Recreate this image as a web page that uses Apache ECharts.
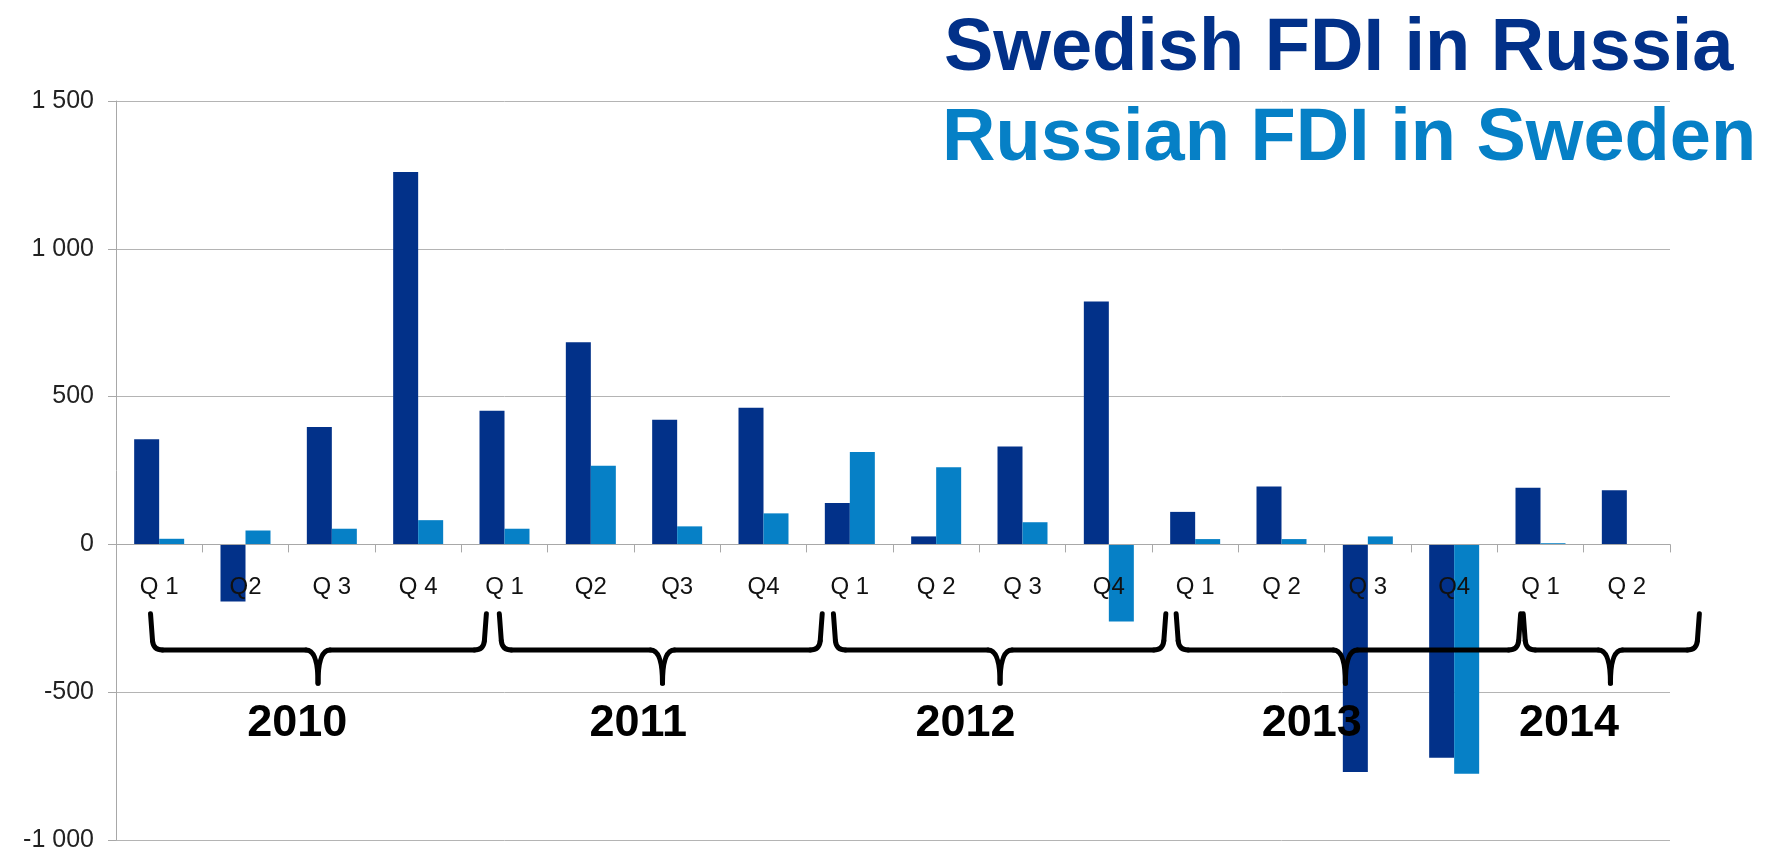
<!DOCTYPE html>
<html>
<head>
<meta charset="utf-8">
<script src="https://cdn.jsdelivr.net/npm/echarts@6/dist/echarts.min.js"></script>
<style>
html,body{margin:0;padding:0;background:#fff;}
#main{width:1765px;height:851px;}
</style>
</head>
<body>
<div id="main"></div>
<script>
// ---- data ----
var quarterLabels = ['Q 1','Q2','Q 3','Q 4','Q 1','Q2','Q3','Q4','Q 1','Q 2','Q 3','Q4','Q 1','Q 2','Q 3','Q4','Q 1','Q 2'];
var swedishInRussia = [356, -193, 397, 1260, 452, 684, 422, 462, 140, 27, 331, 822, 110, 196, -770, -722, 192, 183];
var russianInSweden = [19, 47, 53, 82, 53, 266, 61, 105, 313, 261, 75, -261, 18, 18, 27, -776, 4, 0];
var seriesNames = ['Swedish FDI in Russia', 'Russian FDI in Sweden'];
var yTickValues = [-1000, -500, 0, 500, 1000, 1500];
var yTickLabels = ['-1 000', '-500', '0', '500', '1 000', '1 500'];
var years = ['2010', '2011', '2012', '2013', '2014'];
// bracket spans in category-index units
var bracketStart = [-0.1, 3.94, 7.81, 11.78, 15.8];
var bracketEnd = [3.79, 7.68, 11.66, 15.77, 17.84];
var bracketTip = [1.84, 5.83, 9.74, 13.74, 16.81];
var yearLabelPos = [1.6, 5.55, 9.34, 13.35, 16.33];
// bracket / label levels in value units
var bracketTopVal = -235;
var bracketLineVal = -357;
var bracketTipVal = -470;
var yearLabelVal = -605;

var DARK = '#023189';
var LIGHT = '#0680c6';

var chart = echarts.init(document.getElementById('main'), null, {renderer: 'canvas'});

var option = {
  animation: false,
  backgroundColor: '#ffffff',
  grid: {left: 116, right: 95, top: 101, bottom: 11, containLabel: false, outerBoundsMode: 'none'},
  xAxis: {
    type: 'category',
    data: quarterLabels,
    z: 5,
    position: 'bottom',
    offset: 0,
    axisLine: {onZero: false, lineStyle: {color: '#a8a8a8', width: 1}},
    axisTick: {show: true, length: 8, inside: false, lineStyle: {color: '#a8a8a8'}},
    axisLabel: {
      margin: 31,
      interval: 0,
      color: '#111',
      fontFamily: 'Liberation Sans, Arial, sans-serif',
      fontSize: 24
    },
    splitLine: {show: false}
  },
  yAxis: {
    type: 'value',
    min: -1000,
    max: 1500,
    interval: 500,
    axisLine: {show: true, lineStyle: {color: '#a8a8a8', width: 1}},
    axisTick: {show: true, length: 8, lineStyle: {color: '#a8a8a8'}},
    axisLabel: {
      margin: 22,
      color: '#222',
      fontFamily: 'Liberation Sans, Arial, sans-serif',
      fontSize: 25,
      formatter: function (v) {
        var i = yTickValues.indexOf(v);
        return i >= 0 ? yTickLabels[i] : '';
      }
    },
    splitLine: {show: true, lineStyle: {color: '#b4b4b4', width: 1}}
  },
  series: [
    {
      name: seriesNames[0], type: 'bar', data: swedishInRussia,
      barWidth: 25, barGap: '0%',
      itemStyle: {color: DARK}
    },
    {
      name: seriesNames[1], type: 'bar', data: russianInSweden,
      barWidth: 25, barGap: '0%',
      itemStyle: {color: LIGHT}
    }
  ]
};
chart.setOption(option);

function yAt(v) {
  return chart.convertToPixel({yAxisIndex: 0}, v);
}
// move the category axis up to the zero line (negative offset = towards the grid's inside)
var axisOffset = yAt(0) - yAt(-1000);
chart.setOption({xAxis: {offset: axisOffset}});

function xAt(idx) {
  var p0 = chart.convertToPixel({xAxisIndex: 0}, 0);
  var p1 = chart.convertToPixel({xAxisIndex: 0}, 1);
  return p0 + idx * (p1 - p0);
}

var graphics = [];
var yTop = yAt(bracketTopVal), yLine = yAt(bracketLineVal), yTip = yAt(bracketTipVal);
var bstyle = {stroke: '#000', lineWidth: 5, lineCap: 'round', fill: 'none'};
function seg(x1, y1, x2, y2) {
  graphics.push({type: 'line', z: 50, silent: true, shape: {x1: x1, y1: y1, x2: x2, y2: y2}, style: bstyle});
}
function curve(x1, y1, cx, cy, x2, y2) {
  graphics.push({type: 'bezierCurve', z: 50, silent: true,
    shape: {x1: x1, y1: y1, x2: x2, y2: y2, cpx1: cx, cpy1: cy}, style: bstyle});
}
for (var i = 0; i < years.length; i++) {
  var xs = xAt(bracketStart[i]), xe = xAt(bracketEnd[i]), xt = xAt(bracketTip[i]);
  var r = 9, r2 = 12;
  seg(xs, yTop, xs + 2, yLine - r);
  curve(xs + 2, yLine - r, xs + 3, yLine, xs + r + 3, yLine);
  seg(xs + r + 3, yLine, xt - r2, yLine);
  curve(xt - r2, yLine, xt, yLine, xt, yTip);
  curve(xt + r2, yLine, xt, yLine, xt, yTip);
  seg(xt + r2, yLine, xe - r - 3, yLine);
  curve(xe - r - 3, yLine, xe - 3, yLine, xe - 2, yLine - r);
  seg(xe - 2, yLine - r, xe, yTop);
  graphics.push({
    type: 'text', z: 51, silent: true,
    x: xAt(yearLabelPos[i]), y: yAt(yearLabelVal),
    style: {
      text: years[i], fill: '#000',
      font: 'bold 45px "Liberation Sans", Arial, sans-serif',
      align: 'center', verticalAlign: 'middle'
    }
  });
}
graphics.push({
  type: 'text', z: 60, silent: true,
  x: 944, y: 50,
  style: {
    text: seriesNames[0], fill: DARK,
    font: 'bold 74px "Liberation Sans", Arial, sans-serif',
    align: 'left', verticalAlign: 'middle'
  }
});
graphics.push({
  type: 'text', z: 60, silent: true,
  x: 942, y: 140,
  style: {
    text: seriesNames[1], fill: LIGHT,
    font: 'bold 74px "Liberation Sans", Arial, sans-serif',
    align: 'left', verticalAlign: 'middle'
  }
});
chart.setOption({graphic: graphics});
</script>
</body>
</html>
